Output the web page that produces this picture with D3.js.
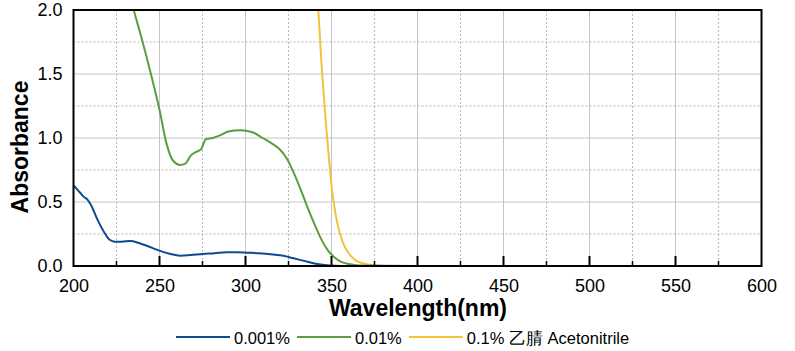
<!DOCTYPE html>
<html>
<head>
<meta charset="utf-8">
<script src="https://cdn.jsdelivr.net/npm/d3@7"></script>
<style>
  body { margin: 0; background: #fff; }
  text { font-family: Arial, "Liberation Sans", sans-serif; }
</style>
</head>
<body>
<div class="container"></div>
<script>
// wavelength (nm) / absorbance
var blueWl = [200, 202, 204, 206, 208, 210, 214, 218, 221, 224, 228, 233, 238, 243, 248, 252, 256, 262, 268, 275, 282, 289, 295, 301, 308, 316, 322, 328, 334, 340, 346, 352, 360, 400, 600];
var blueAbs = [0.63, 0.60, 0.57, 0.54, 0.52, 0.48, 0.36, 0.26, 0.205, 0.19, 0.19, 0.195, 0.18, 0.156, 0.13, 0.11, 0.095, 0.08, 0.085, 0.094, 0.10, 0.107, 0.107, 0.104, 0.10, 0.09, 0.08, 0.06, 0.04, 0.02, 0.008, 0.002, 0, 0, 0];

var greenWl = [232, 235, 240, 245, 250, 254, 258, 262, 265, 268, 271, 274, 277, 281, 285, 290, 297, 304, 310, 315, 320, 324, 328, 332, 336, 340, 344, 348, 352, 356, 360, 366, 400, 600];
var greenAbs = [2.15, 2.0, 1.76, 1.5, 1.22, 0.96, 0.82, 0.79, 0.80, 0.86, 0.89, 0.91, 0.99, 1.0, 1.02, 1.05, 1.06, 1.045, 1.0, 0.96, 0.91, 0.84, 0.73, 0.60, 0.46, 0.33, 0.21, 0.12, 0.065, 0.03, 0.015, 0.003, 0, 0];

var yellowWl = [340, 342.3, 344.3, 346, 347.2, 348.5, 350, 351.5, 353, 355, 357, 360, 363, 366, 370, 375, 380, 400, 600];
var yellowAbs = [2.3, 2.0, 1.56, 1.25, 1.04, 0.84, 0.63, 0.48, 0.36, 0.25, 0.17, 0.1, 0.055, 0.03, 0.015, 0.005, 0, 0, 0];

var seriesNames = ["0.001%", "0.01%", "0.1% 乙腈 Acetonitrile"];
var seriesColors = ["#0f4a8c", "#5c9e3f", "#f3c23c"];

var xTicks = [200, 250, 300, 350, 400, 450, 500, 550, 600];
var xMinor = [225, 275, 325, 375, 425, 475, 525, 575];
var yTicks = [0, 0.5, 1.0, 1.5, 2.0];
var yMinor = [0.25, 0.75, 1.25, 1.75];

const WIDTH = 795;
const HEIGHT = 351;
const M = {left: 73.5, top: 10, right: 33.5, bottom: 85};
const IW = WIDTH - M.left - M.right;
const IH = HEIGHT - M.top - M.bottom;

var translate = function(x, y){
	return "translate(" + x + "," + y + ")";
};

var svg = d3.select('.container').append('svg')
	.attr('width', WIDTH)
	.attr('height', HEIGHT);

var xScale = d3.scaleLinear().domain([200, 600]).range([0, IW]);
var yScale = d3.scaleLinear().domain([0, 2]).range([IH, 0]);

var plot = svg.append('g').attr('transform', translate(M.left, M.top));

// grid: solid at major, dotted at minor
plot.selectAll('.vmin').data(xMinor).enter().append('line')
	.attr('x1', d => xScale(d)).attr('x2', d => xScale(d))
	.attr('y1', 0).attr('y2', IH)
	.attr('stroke', '#b8b8b8').attr('stroke-width', 1).attr('stroke-dasharray', '2,2');
plot.selectAll('.hmin').data(yMinor).enter().append('line')
	.attr('x1', 0).attr('x2', IW)
	.attr('y1', d => yScale(d)).attr('y2', d => yScale(d))
	.attr('stroke', '#b8b8b8').attr('stroke-width', 1).attr('stroke-dasharray', '2,2');
plot.selectAll('.vmaj').data(xTicks.slice(1, -1)).enter().append('line')
	.attr('x1', d => xScale(d)).attr('x2', d => xScale(d))
	.attr('y1', 0).attr('y2', IH)
	.attr('stroke', '#c4c4c4').attr('stroke-width', 1);
plot.selectAll('.hmaj').data(yTicks.slice(1, -1)).enter().append('line')
	.attr('x1', 0).attr('x2', IW)
	.attr('y1', d => yScale(d)).attr('y2', d => yScale(d))
	.attr('stroke', '#c4c4c4').attr('stroke-width', 1);

// curves
svg.append('clipPath').attr('id', 'clip')
	.append('rect').attr('width', IW).attr('height', IH);

var line = d3.line()
	.x(d => xScale(d[0]))
	.y(d => yScale(d[1]))
	.curve(d3.curveMonotoneX);

var series = [
	d3.zip(blueWl, blueAbs),
	d3.zip(greenWl, greenAbs),
	d3.zip(yellowWl, yellowAbs)
];

var curves = plot.append('g').attr('clip-path', 'url(#clip)');
[2, 1, 0].forEach(function(i){
	curves.append('path')
		.attr('d', line(series[i]))
		.attr('fill', 'none')
		.attr('stroke', seriesColors[i])
		.attr('stroke-width', 2);
});

// axes
var xAxis = d3.axisBottom(xScale).tickValues(xTicks).tickSize(0).tickPadding(13);
var gx = plot.append('g').attr('transform', translate(0, IH)).call(xAxis);
gx.select('.domain').remove();
gx.selectAll('text').attr('font-size', '18px').attr('fill', '#000');

var yAxis = d3.axisLeft(yScale).tickValues(yTicks).tickSize(0).tickPadding(11)
	.tickFormat(d3.format('.1f'));
var gy = plot.append('g').call(yAxis);
gy.select('.domain').remove();
gy.selectAll('text').attr('font-size', '18px').attr('fill', '#000');

// inward ticks on the bottom axis
plot.selectAll('.tmaj').data(xTicks.slice(1, -1)).enter().append('line')
	.attr('x1', d => xScale(d)).attr('x2', d => xScale(d))
	.attr('y1', IH).attr('y2', IH - 10)
	.attr('stroke', '#000').attr('stroke-width', 2);
plot.selectAll('.tmin').data(xMinor).enter().append('line')
	.attr('x1', d => xScale(d)).attr('x2', d => xScale(d))
	.attr('y1', IH).attr('y2', IH - 5)
	.attr('stroke', '#000').attr('stroke-width', 1.5);

// frame
plot.append('rect')
	.attr('width', IW).attr('height', IH)
	.attr('fill', 'none').attr('stroke', '#000').attr('stroke-width', 2);

// axis titles
svg.append('text')
	.attr('x', M.left + IW / 2 + 0.5).attr('y', 316)
	.attr('text-anchor', 'middle')
	.attr('font-size', '23px').attr('font-weight', 'bold')
	.text('Wavelength(nm)');

svg.append('text')
	.attr('transform', translate(28, 147) + ' rotate(-90)')
	.attr('text-anchor', 'middle')
	.attr('font-size', '23px').attr('font-weight', 'bold')
	.text('Absorbance');

// legend
var legend = svg.append('g').attr('transform', translate(176, 337));
var lx = 0;
seriesNames.forEach(function(name, i){
	legend.append('line')
		.attr('x1', lx).attr('x2', lx + 54)
		.attr('y1', 0).attr('y2', 0)
		.attr('stroke', seriesColors[i]).attr('stroke-width', 2);
	var t = legend.append('text')
		.attr('x', lx + 58).attr('y', 7)
		.attr('font-size', '16.5px').attr('fill', '#000')
		.text(name);
	lx += 58 + t.node().getComputedTextLength() + 7;
});
</script>
</body>
</html>
